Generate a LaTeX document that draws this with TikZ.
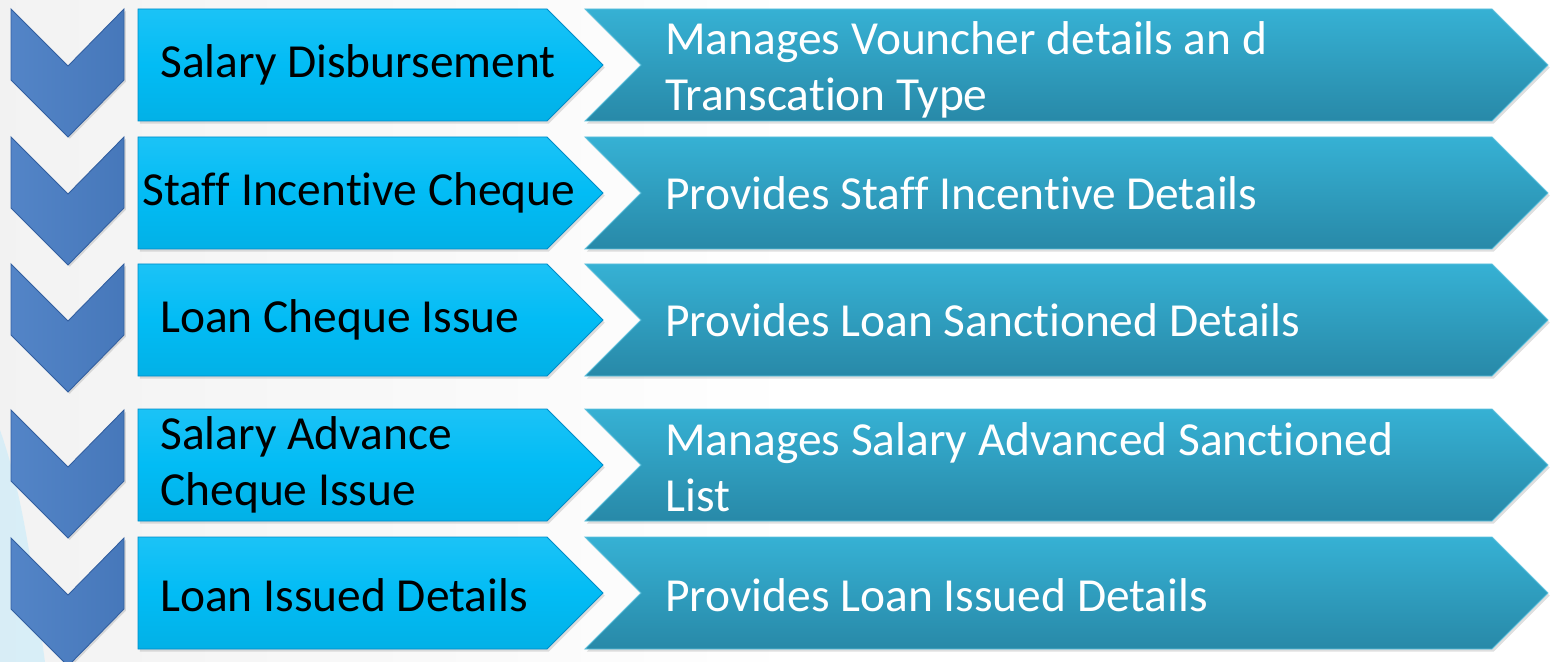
\documentclass[tikz,border=0pt]{standalone}
\usepackage{fontspec}
\setmainfont{Carlito}[Ligatures=NoCommon]
\usetikzlibrary{shadows}

\definecolor{chevblue}{RGB}{74,126,196}
\definecolor{chevedge}{RGB}{50,95,160}
\definecolor{boxblue}{RGB}{2,188,245}
\definecolor{boxedge}{RGB}{0,140,200}
\definecolor{desctop}{RGB}{54,177,212}
\definecolor{descbot}{RGB}{40,137,168}

\tikzset{
  chev/.style={draw=chevedge, line width=0.5pt, left color=chevblue!95!white,
    right color=chevblue!95!black,
    drop shadow={opacity=0.25, shadow xshift=1pt, shadow yshift=-1pt}},
  namebox/.style={draw=boxedge, line width=0.5pt, top color=boxblue!90!white,
    bottom color=boxblue!94!black, middle color=boxblue,
    drop shadow={opacity=0.25, shadow xshift=1pt, shadow yshift=-1.5pt}},
  descbox/.style={draw=desctop!80!white, line width=0.5pt, top color=desctop,
    bottom color=descbot,
    drop shadow={opacity=0.25, shadow xshift=1pt, shadow yshift=-1.5pt}},
  nametext/.style={anchor=west, inner sep=0pt, align=left, text=black,
    font=\fontsize{27}{32}\selectfont},
  desctext/.style={nametext, text=white}
}

\begin{document}
\begin{tikzpicture}[x=0.02cm, y=-0.02cm]
\useasboundingbox (0,0) rectangle (1552,662);
\clip (0,0) rectangle (1552,662);

% background:
\fill[left color=gray!10, right color=white] (0,0) rectangle (800,662);
\fill[cyan!25, opacity=0.5] (0,430) .. controls (25,500) and (35,590) .. (45,662) -- (0,662) -- cycle;

% 1st row:
\draw[chev] (11,9) -- ++(57,57) -- ++(56,-57) -- ++(0,71) -- ++(-56,57) -- ++(-57,-57) -- cycle;
\draw[namebox] (138,9) -- ++(409,0) -- ++(56,56) -- ++(-56,56) -- ++(-409,0) -- cycle;
\draw[descbox] (585,9) -- ++(907,0) -- ++(56,56) -- ++(-56,56) -- ++(-907,0) -- ++(56,-56) -- cycle;

\node[nametext] (salary) at (160,65) {Salary Disbursement};
\node[desctext] (voucher) at (665,70) {Manages Vouncher details an d\\Transcation Type};


% 2nd row:
\draw[chev] (11,137) -- ++(57,57) -- ++(56,-57) -- ++(0,71) -- ++(-56,57) -- ++(-57,-57) -- cycle;
\draw[namebox] (138,137) -- ++(409,0) -- ++(56,56) -- ++(-56,56) -- ++(-409,0) -- cycle;
\draw[descbox] (585,137) -- ++(907,0) -- ++(56,56) -- ++(-56,56) -- ++(-907,0) -- ++(56,-56) -- cycle;

\node[nametext] (incentive) at (142,193) {Staff Incentive Cheque};
\node[desctext] (incdetails) at (665,193) {Provides Staff Incentive Details};


% 3rd row:
\draw[chev] (11,264) -- ++(57,57) -- ++(56,-57) -- ++(0,71) -- ++(-56,57) -- ++(-57,-57) -- cycle;
\draw[namebox] (138,264) -- ++(409,0) -- ++(56,56) -- ++(-56,56) -- ++(-409,0) -- cycle;
\draw[descbox] (585,264) -- ++(907,0) -- ++(56,56) -- ++(-56,56) -- ++(-907,0) -- ++(56,-56) -- cycle;

\node[nametext] (loancheque) at (160,320) {Loan Cheque Issue};
\node[desctext] (sanctioned) at (665,320) {Provides Loan Sanctioned Details};


% 4th row:
\draw[chev] (11,410) -- ++(57,57) -- ++(56,-57) -- ++(0,71) -- ++(-56,57) -- ++(-57,-57) -- cycle;
\draw[namebox] (138,409) -- ++(409,0) -- ++(56,56) -- ++(-56,56) -- ++(-409,0) -- cycle;
\draw[descbox] (585,409) -- ++(907,0) -- ++(56,56) -- ++(-56,56) -- ++(-907,0) -- ++(56,-56) -- cycle;

\node[nametext] (advance) at (160,465) {Salary Advance\\Cheque Issue};
\node[desctext] (advlist) at (665,467) {Manages Salary Advanced Sanctioned\\List};


% 5th row:
\draw[chev] (11,538) -- ++(57,57) -- ++(56,-57) -- ++(0,71) -- ++(-56,57) -- ++(-57,-57) -- cycle;
\draw[namebox] (138,537) -- ++(409,0) -- ++(56,56) -- ++(-56,56) -- ++(-409,0) -- cycle;
\draw[descbox] (585,537) -- ++(907,0) -- ++(56,56) -- ++(-56,56) -- ++(-907,0) -- ++(56,-56) -- cycle;

\node[nametext] (loanissued) at (160,595) {Loan Issued Details};
\node[desctext] (issdetails) at (665,595) {Provides Loan Issued Details};

\end{tikzpicture}
\end{document}
